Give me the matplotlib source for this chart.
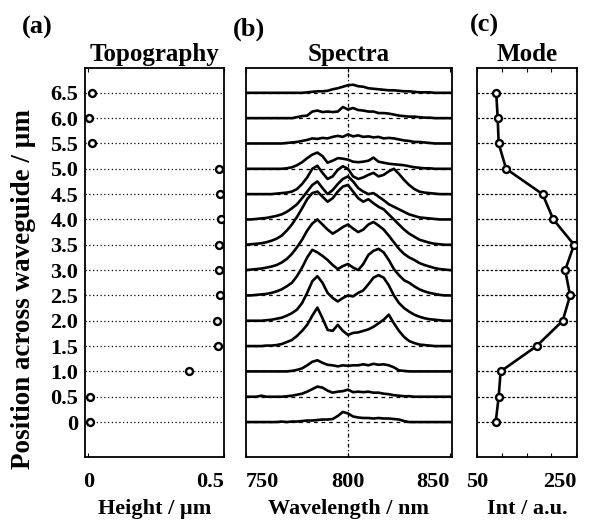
import numpy as np
import matplotlib
matplotlib.use('Agg')
import matplotlib.pyplot as plt

# Fuente tipo Times en negrita, como la figura original
plt.rcParams['font.family'] = ['Liberation Serif', 'DejaVu Serif']
plt.rcParams['font.weight'] = 'bold'
plt.rcParams['axes.titleweight'] = 'bold'
plt.rcParams['axes.labelweight'] = 'bold'

# Posiciones a lo largo de la guía (µm)
positions = [0, 0.5, 1.0, 1.5, 2.0, 2.5, 3.0, 3.5, 4.0, 4.5, 5.0, 5.5, 6.0, 6.5]
pos_labels = ['0', '0.5', '1.0', '1.5', '2.0', '2.5', '3.0', '3.5',
              '4.0', '4.5', '5.0', '5.5', '6.0', '6.5']

# (a) Topografía: altura en cada posición (µm)
height_um = [0.008, 0.008, 0.372, 0.479, 0.473, 0.486, 0.482, 0.482,
             0.488, 0.486, 0.482, 0.012, 0.002, 0.015]

# (c) Intensidad del modo (u.a.)
mode_int = [87, 93, 97, 170, 223, 238, 228, 246, 204, 182, 108, 93, 91, 88]

# (b) Espectros: eje de longitud de onda y alturas
wavelength = np.arange(750, 850.1, 2.5)
spec_0_0 = [0, 0, 0, 0, 0, 0, 0, .01, 0, .01, .01, .02, .03, .03, .04, .05, .05, .06, .12, .20,
            .17, .11, .09, .08, .08, .07, .08, .07, .07, .06, .05, .02, 0, 0, 0, 0, 0, 0, 0, 0, 0]
spec_0_5 = [0, 0, 0, .02, 0, 0, 0, 0, .01, .02, .04, .06, .10, .15, .20, .18, .12, .08, .10, .11,
            .14, .09, .10, .09, .10, .08, .08, .06, .05, .03, .02, .01, .01, 0, 0, 0, 0, 0, 0, 0, 0]
spec_1_0 = [0, 0, 0, 0, 0, 0, 0, 0, 0, .01, .03, .06, .12, .19, .22, .17, .13, .12, .10, .12,
            .11, .12, .12, .14, .12, .15, .13, .14, .12, .08, .02, .01, 0, 0, 0, 0, 0, 0, 0, 0, 0]
spec_1_5 = [0, 0, 0, 0, .01, .01, .02, .04, .08, .12, .20, .30, .42, .60, .76, .55, .32, .30, .42, .30,
            .22, .26, .27, .30, .33, .38, .45, .52, .62, .45, .30, .18, .10, .06, .03, .02, .01, 0, 0, 0, 0]
spec_2_0 = [0, 0, 0, 0, .01, .02, .04, .06, .10, .15, .22, .35, .55, .78, .88, .75, .55, .45, .38, .45,
            .50, .48, .55, .60, .72, .85, .90, .85, .70, .50, .35, .25, .18, .12, .08, .05, .03, .02, .01, 0, 0]
spec_2_5 = [0, 0, .01, .02, .03, .05, .08, .12, .18, .25, .38, .55, .75, .90, .85, .78, .70, .60, .52, .58,
            .62, .55, .50, .62, .80, .88, .92, .85, .70, .52, .40, .30, .25, .18, .12, .08, .05, .03, .01, 0, 0]
spec_3_0 = [0, .01, .02, .03, .05, .07, .10, .15, .22, .32, .45, .60, .78, .92, 1.0, .90, .80, .72, .78, .85,
            .90, .82, .75, .80, .90, .95, .88, .80, .68, .55, .42, .32, .25, .20, .14, .10, .07, .04, .02, .01, 0]
spec_3_5 = [0, .01, .02, .03, .05, .08, .12, .18, .28, .40, .55, .72, .90, 1.02, 1.05, .95, .85, .92, 1.05, 1.15,
            1.18, 1.05, .92, .85, .90, .82, .75, .70, .60, .50, .40, .30, .22, .16, .10, .07, .04, .02, .01, 0, 0]
spec_4_0 = [0, 0, .01, .02, .03, .05, .07, .10, .15, .22, .30, .42, .55, .68, .75, .62, .50, .58, .70, .80,
            .85, .75, .62, .55, .50, .52, .45, .38, .30, .25, .20, .15, .10, .07, .04, .03, .02, .01, 0, 0, 0]
spec_4_5 = [0, 0, 0, 0, 0, 0, .01, .02, .03, .05, .10, .20, .33, .50, .56, .42, .30, .35, .48, .55,
            .50, .35, .30, .33, .38, .42, .35, .38, .45, .50, .40, .28, .18, .10, .05, .03, .02, .01, 0, 0, 0]
spec_5_0 = [0, 0, 0, 0, 0, 0, 0, 0, .01, .03, .07, .13, .21, .28, .32, .25, .12, .16, .21, .20,
            .18, .14, .13, .14, .16, .22, .14, .12, .10, .09, .08, .07, .05, .03, .02, .01, .01, 0, 0, 0, 0]
spec_5_5 = [0, 0, 0, 0, 0, 0, 0, 0, .01, .02, .03, .05, .07, .10, .09, .11, .10, .13, .15, .13,
            .18, .14, .16, .13, .14, .12, .13, .10, .11, .10, .08, .06, .05, .03, .03, .02, .01, 0, 0, 0, 0]
spec_6_0 = [0, 0, 0, 0, 0, 0, 0, 0, 0, 0, .02, .04, .05, .13, .15, .12, .13, .12, .13, .22,
            .17, .20, .16, .15, .13, .13, .10, .10, .09, .07, .05, .04, .03, .03, .02, .01, .01, 0, 0, 0, 0]
spec_6_5 = [0, 0, 0, 0, 0, 0, 0, 0, 0, 0, 0, 0, .01, .02, .03, .03, .04, .07, .09, .12,
            .15, .16, .13, .12, .09, .08, .07, .06, .05, .05, .04, .03, .03, .02, .01, .01, .01, 0, 0, 0, 0]
spectra = [spec_0_0, spec_0_5, spec_1_0, spec_1_5, spec_2_0, spec_2_5, spec_3_0,
           spec_3_5, spec_4_0, spec_4_5, spec_5_0, spec_5_5, spec_6_0, spec_6_5]

fig = plt.figure(figsize=(5.97, 5.27), dpi=100)
W, H = 597.0, 527.0

def make_ax(x0, x1, y0=68, y1=457):
    ax = fig.add_axes([x0 / W, 1 - y1 / H, (x1 - x0) / W, (y1 - y0) / H])
    ax.set_ylim(-0.69, 6.99)
    ax.set_yticks(positions)
    for s in ax.spines.values():
        s.set_linewidth(1.3)
    ax.tick_params(direction='in', length=3, top=True, right=True,
                   labelsize=16, pad=11)
    return ax

# Subgráfico (a): topografía
ax_a = make_ax(85, 224)
for p in positions:
    ax_a.axhline(p, color='black', linestyle=(0, (1, 2)), lw=0.9, zorder=1)
ax_a.plot(height_um, positions, 'o', ms=5, mfc='white', mec='black', mew=1.7, zorder=3)
ax_a.set_xlim(-0.012, 0.5)
ax_a.set_xticks([0, 0.5])
ax_a.set_xticklabels(['0', '0.5'])
ax_a.get_xticklabels()[1].set_ha('right')
ax_a.set_yticklabels(pos_labels)
ax_a.tick_params(axis='y', length=0, pad=5)
ax_a.set_xlabel('Height / µm', fontsize=16, labelpad=5)
ax_a.set_title('Topography', fontsize=18, pad=5)

# Subgráfico (b): espectros desplazados por posición
ax_b = make_ax(246, 452)
for p in positions:
    ax_b.axhline(p, color='black', linestyle=(0, (3, 3)), lw=0.9, zorder=1)
ax_b.axvline(800, color='black', linestyle=(0, (3, 2, 1, 2)), lw=0.9, zorder=1)
for p, s in zip(positions, spectra):
    ax_b.plot(wavelength, np.array(s) + p, color='black', lw=1.9, zorder=3)
ax_b.set_xlim(750, 851)
ax_b.set_xticks([750, 800, 850])
ax_b.set_xticklabels(['750', '800', '850'])
ax_b.get_xticklabels()[0].set_ha('left')
ax_b.get_xticklabels()[2].set_ha('right')
ax_b.set_yticklabels([])
ax_b.tick_params(axis='y', length=0)
ax_b.set_xlabel('Wavelength / nm', fontsize=16, labelpad=5)
ax_b.set_title('Spectra', fontsize=18, pad=5)

# Subgráfico (c): perfil del modo
ax_c = make_ax(477, 577)
for p in positions:
    ax_c.axhline(p, color='black', linestyle=(0, (2, 1.5)), lw=0.9, zorder=1)
ax_c.plot(mode_int, positions, '-o', color='black', lw=1.9, ms=5,
          mfc='white', mec='black', mew=1.7, zorder=3)
ax_c.set_xlim(49, 252)
ax_c.set_xticks([50, 100, 150, 200, 250])
ax_c.set_xticklabels(['50', '', '', '', '250'])
ax_c.get_xticklabels()[4].set_ha('right')
ax_c.set_yticklabels([])
ax_c.tick_params(axis='y', length=0)
ax_c.set_xlabel('Int / a.u.', fontsize=16, labelpad=5)
ax_c.set_title('Mode', fontsize=18, pad=5)

# Etiquetas de panel y eje vertical común
fig.text(22 / W, 1 - 27 / H, '(a)', fontsize=19, va='center', ha='left')
fig.text(233 / W, 1 - 29 / H, '(b)', fontsize=19, va='center', ha='left')
fig.text(470 / W, 1 - 25 / H, '(c)', fontsize=19, va='center', ha='left')
fig.text(24 / W, 1 - 289 / H, 'Position across waveguide / µm', fontsize=19.5,
         rotation=90, va='center', ha='center')

fig.savefig('out.png', dpi=100)
